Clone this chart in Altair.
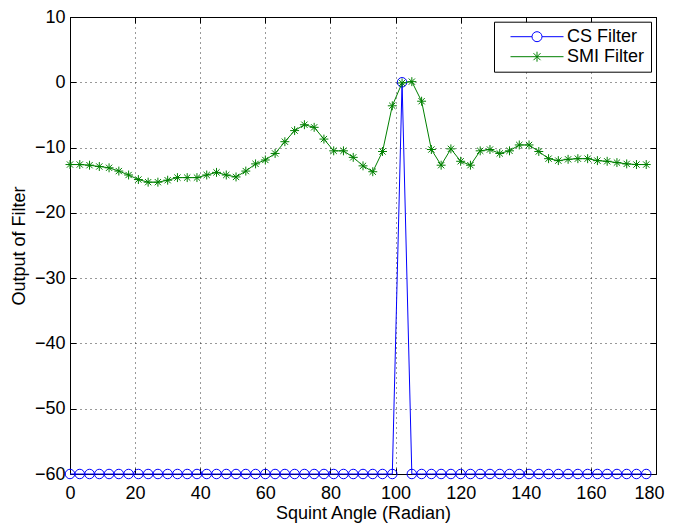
import altair as alt
import pandas as pd

# ---- data ----
angle = [0, 3, 6, 9, 12, 15, 18, 21, 24, 27, 30, 33, 36, 39, 42, 45, 48, 51, 54, 57,
         60, 63, 66, 69, 72, 75, 78, 81, 84, 87, 90, 93, 96, 99, 102, 105, 108, 111, 114, 117,
         120, 123, 126, 129, 132, 135, 138, 141, 144, 147, 150, 153, 156, 159, 162, 165, 168, 171, 174, 177]

cs_output = [-60, -60, -60, -60, -60, -60, -60, -60, -60, -60,
             -60, -60, -60, -60, -60, -60, -60, -60, -60, -60,
             -60, -60, -60, -60, -60, -60, -60, -60, -60, -60,
             -60, -60, -60, -60, 0, -60, -60, -60, -60, -60,
             -60, -60, -60, -60, -60, -60, -60, -60, -60, -60,
             -60, -60, -60, -60, -60, -60, -60, -60, -60, -60]

smi_output = [-12.6, -12.6, -12.7, -12.9, -13.1, -13.6, -14.2, -14.9, -15.3, -15.3,
              -15.0, -14.6, -14.6, -14.6, -14.2, -13.8, -14.2, -14.5, -13.6, -12.5,
              -11.9, -10.9, -9.1, -7.4, -6.5, -6.9, -8.7, -10.5, -10.5, -11.5,
              -12.8, -13.7, -10.6, -3.6, -0.1, 0.1, -2.9, -10.3, -12.7, -10.2,
              -12.1, -12.7, -10.5, -10.3, -10.9, -10.5, -9.6, -9.6, -10.6, -11.7,
              -12.0, -11.8, -11.7, -11.7, -12.0, -12.1, -12.3, -12.5, -12.6, -12.6]

series_names = ["CS Filter", "SMI Filter"]
x_ticks = [0, 20, 40, 60, 80, 100, 120, 140, 160, 180]
y_ticks = [-60, -50, -40, -30, -20, -10, 0, 10]

# ---- styling ----
FONT = "Liberation Sans"
BLUE = "#0000ff"
GREEN = "#008000"
STAR = "M0,-1V1M-1,0H1M-0.7,-0.7L0.7,0.7M-0.7,0.7L0.7,-0.7"
CS_LEG = "M-5.3,0H-1M1,0H5.3M1,0A1,1 0 1 1 -1,0A1,1 0 1 1 1,0"
SMI_LEG = "M-5.3,0H5.3M0,-1V1M-0.7,-0.7L0.7,0.7M-0.7,0.7L0.7,-0.7"

cs_df = pd.DataFrame({"angle": angle, "value": cs_output})
smi_df = pd.DataFrame({"angle": angle, "value": smi_output})
legend_df = pd.DataFrame({"angle": [0, 0], "value": [-60, -60], "series": series_names})

xs = alt.Scale(domain=[0, 180], nice=False, zero=False)
ys = alt.Scale(domain=[-60, 10], nice=False, zero=False)

main_x = alt.Axis(values=x_ticks, title="Squint Angle (Radian)", grid=True,
                  gridDash=[1, 4], gridColor="#000000", gridOpacity=0.8, gridWidth=1,
                  ticks=False, domain=False, labelPadding=10, labelFlush=False,
                  labelOverlap=False, titleY=44, titleBaseline="alphabetic",
                  labelOffset={"condition": {"test": "datum.value === 180", "value": -7},
                               "value": 0})
main_y = alt.Axis(values=y_ticks, title="Output of Filter", grid=True,
                  gridDash=[1, 4], gridColor="#000000", gridOpacity=0.8, gridWidth=1,
                  ticks=False, domain=False, labelPadding=5, labelFlush=False,
                  labelOverlap=False, titleX=-45.5, titleAngle=270,
                  titleAlign="center", titleBaseline="alphabetic")


def tick_axis(orient, vals):
    return alt.Axis(orient=orient, values=vals, labels=False, ticks=True, tickSize=6,
                    offset=-6, grid=False, domain=False, title=None,
                    tickColor="#000000", tickWidth=1)


cs_line = alt.Chart(cs_df).mark_line(color=BLUE, strokeWidth=1).encode(
    x=alt.X("angle:Q", scale=xs, axis=main_x),
    y=alt.Y("value:Q", scale=ys, axis=main_y),
)
cs_pts = alt.Chart(cs_df).mark_point(shape="circle", filled=False, color=BLUE,
                                     size=90, strokeWidth=1, opacity=1).encode(
    x=alt.X("angle:Q", scale=xs, axis=tick_axis("bottom", x_ticks)),
    y=alt.Y("value:Q", scale=ys, axis=tick_axis("left", y_ticks)),
)
smi_line = alt.Chart(smi_df).mark_line(color=GREEN, strokeWidth=1).encode(
    x=alt.X("angle:Q", scale=xs, axis=tick_axis("top", x_ticks)),
    y=alt.Y("value:Q", scale=ys, axis=tick_axis("right", y_ticks)),
)
smi_pts = alt.Chart(smi_df).mark_point(shape=STAR, filled=False, color=GREEN,
                                       size=80, strokeWidth=1, opacity=1).encode(
    x=alt.X("angle:Q", scale=xs, axis=None),
    y=alt.Y("value:Q", scale=ys, axis=None),
)

leg = alt.Legend(title=None, orient="none", legendX=424, legendY=4.7,
                 strokeColor="#000000", fillColor="#ffffff", padding=6,
                 symbolSize=100, symbolStrokeWidth=1, symbolOffset=28,
                 labelOffset=21, rowPadding=2, labelFont=FONT, labelFontSize=18,
                 labelColor="#000000", symbolOpacity=1)

legend_layer = alt.Chart(legend_df).mark_point(filled=False, opacity=0, strokeWidth=1).encode(
    x=alt.X("angle:Q", scale=xs, axis=None),
    y=alt.Y("value:Q", scale=ys, axis=None),
    color=alt.Color("series:N", scale=alt.Scale(domain=series_names, range=[BLUE, GREEN]), legend=leg),
    shape=alt.Shape("series:N", scale=alt.Scale(domain=series_names, range=[CS_LEG, SMI_LEG]), legend=leg),
)

chart = (
    alt.layer(cs_line, cs_pts, smi_line, smi_pts, legend_layer)
    .resolve_axis(x="independent", y="independent")
    .properties(width=586, height=457,
                autosize=alt.AutoSizeParams(type="none"),
                padding={"left": 62, "top": 9, "right": 9, "bottom": 49})
    .configure_view(stroke="#000000", strokeWidth=1)
    .configure_axis(labelFont=FONT, titleFont=FONT, labelFontSize=18, titleFontSize=18,
                    titleFontWeight="normal", labelColor="#000000", titleColor="#000000")
)

chart.save("out.html", embed_options={"renderer": "svg", "actions": False})
